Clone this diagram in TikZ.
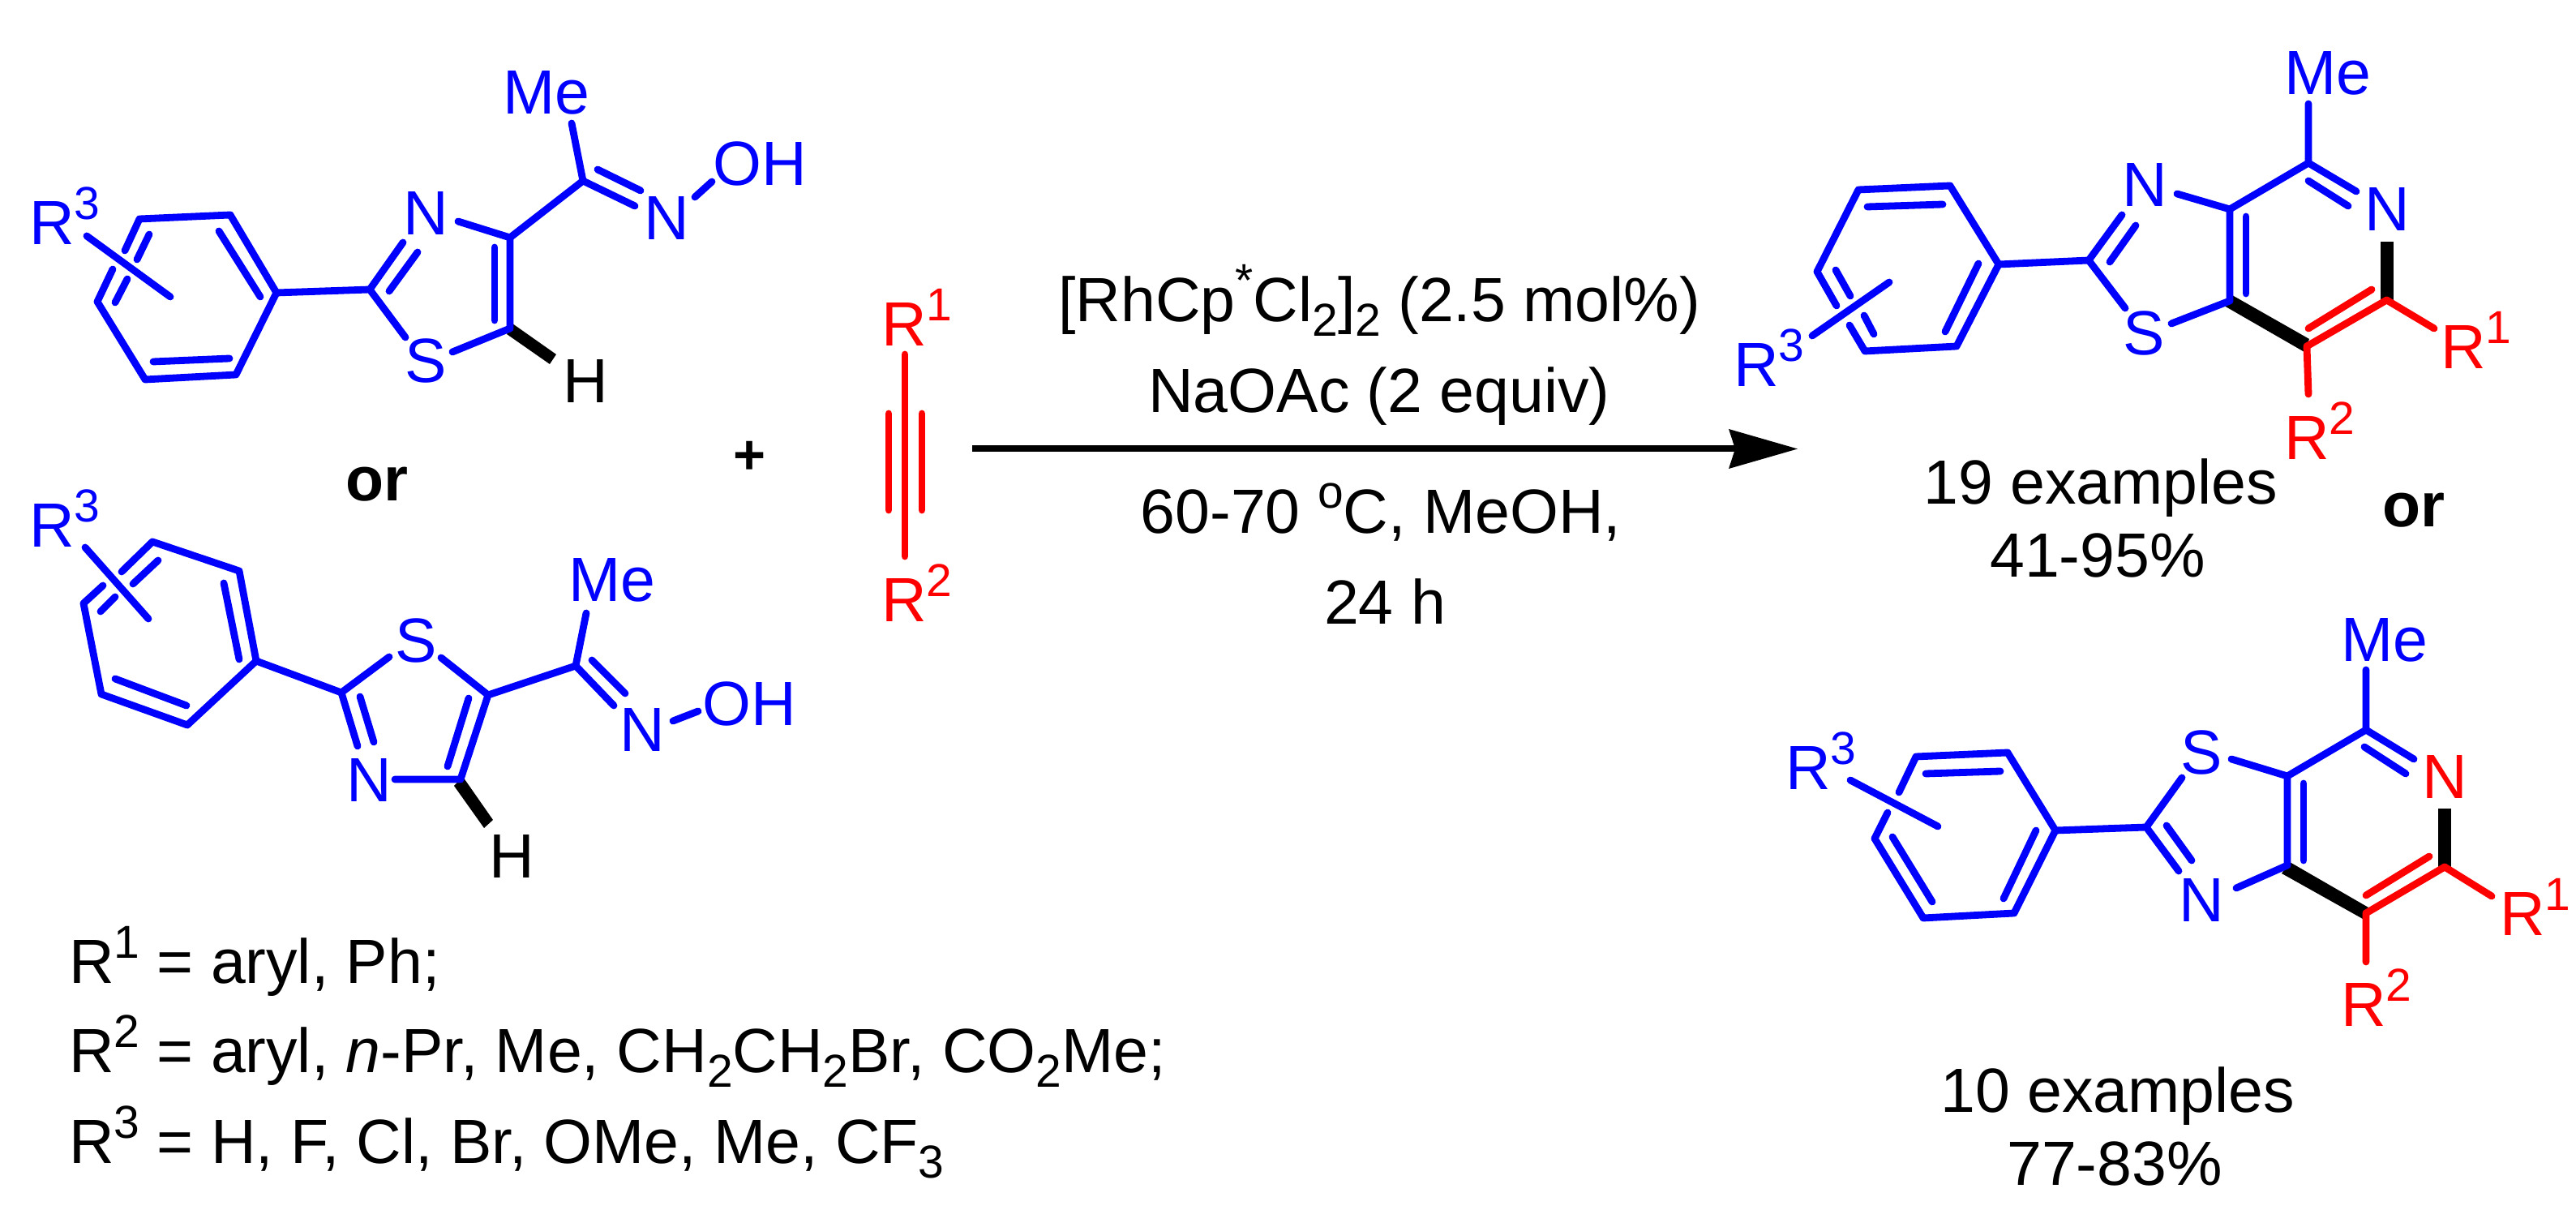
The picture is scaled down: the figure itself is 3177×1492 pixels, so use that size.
\documentclass[tikz,border=0pt]{standalone}
\usepackage{fontspec}
\setmainfont{Liberation Sans}
\definecolor{mblue}{RGB}{0,0,255}
\definecolor{mred}{RGB}{255,0,0}
\newcommand\mainsize{\fontsize{21.9}{26}\selectfont}
\newcommand\Sup[1]{\raisebox{.31cm}{\fontsize{16.2}{18}\selectfont #1}}
\newcommand\Sub[1]{\raisebox{-.17cm}{\fontsize{16.2}{18}\selectfont #1}}
\tikzset{
  bb/.style={draw=mblue,line width=.088cm,line cap=round,line join=round},
  rb/.style={draw=mred,line width=.088cm,line cap=round,line join=round},
  kb/.style={draw=black,line width=.16cm,line cap=butt},
  wedgefill/.style={fill=black,draw=none},
  lab/.style={inner sep=0pt,outer sep=0pt,anchor=base,font=\mainsize},
  labw/.style={lab,anchor=base west},
  bl/.style={lab,text=mblue},
  blw/.style={labw,text=mblue},
  rlw/.style={labw,text=mred},
  bk/.style={lab,text=black},
  bkw/.style={labw,text=black},
  orl/.style={lab,text=black,font=\mainsize\bfseries},
}
\begin{document}
\begin{tikzpicture}[x=.01cm,y=-.01cm]
\useasboundingbox (0,0) rectangle (3177,1492);
\fill[white] (0,0) rectangle (3177,1492);

%% ---------- top reactant
\coordinate (a1) at (172,270); \coordinate (a2) at (284,265); \coordinate (a3) at (341,361);
\coordinate (a4) at (291,462); \coordinate (a5) at (179,468); \coordinate (a6) at (120,372);
\coordinate (a7) at (154,309); \coordinate (a8) at (139,332);
\coordinate (a9) at (456,357); \coordinate (a10) at (497,299); \coordinate (a11) at (500,416);
\coordinate (a12) at (558,434); \coordinate (a13) at (629,405); \coordinate (a14) at (629,293);
\coordinate (a15) at (565,273); \coordinate (a16) at (719,223); \coordinate (a17) at (705,152);
\coordinate (a18) at (783,254); \coordinate (a19) at (857,243); \coordinate (a20) at (878,224);
\fill[wedgefill] (632,399) -- (686,437) -- (678,449) -- (625,412) -- cycle;
\draw[bb] (a7) -- (a1) -- (a2) -- (a3) -- (a4) -- (a5) -- (a6) -- (a8);
\draw[bb] (a3) -- (a9) -- (a10);
\draw[bb] (a9) -- (a11);
\draw[bb] (a12) -- (a13) -- (a14) -- (a15);
\draw[bb] (a14) -- (a16) -- (a17);
\draw[bb] (a16) -- (a18);
\draw[bb] (a19) -- (a20);
\draw[bb] (270,285) -- (321,366);
\draw[bb] (189,446) -- (283,442);
\draw[bb] (184,289) -- (169,320);
\draw[bb] (157,344) -- (142,373);
\draw[bb] (107,291) -- (210,366);
\draw[bb] (480,359) -- (515,311);
\draw[bb] (610,305) -- (610,395);
\draw[bb] (737,209) -- (790,235);
\node[blw] (aR) at (36,302) {R\Sup{3}};
\node[bl] (aN) at (525,290) {N};
\node[bl] (aS) at (525,472) {S};
\node[bl] (aMe) at (674,141) {Me};
\node[bl] (aN2) at (822,296) {N};
\node[bl] (aOH) at (937,229) {OH};
\node[bk] (aH) at (722,497) {H};

\node[orl] (or1) at (465,618) {or};
\node[lab,font=\fontsize{19.5}{24}\selectfont\bfseries] (plus) at (925,585) {+};

%% ---------- lower reactant
\coordinate (b1) at (188,668); \coordinate (b2) at (295,704); \coordinate (b3) at (316,815);
\coordinate (b4) at (231,894); \coordinate (b5) at (125,856); \coordinate (b6) at (103,744);
\coordinate (b7) at (150,705); \coordinate (b8) at (127,722);
\coordinate (b9) at (421,854); \coordinate (b10) at (480,810); \coordinate (b11) at (441,920);
\coordinate (b12) at (544,811); \coordinate (b13) at (602,857); \coordinate (b14) at (568,961);
\coordinate (b15) at (487,961); \coordinate (b16) at (710,821); \coordinate (b17) at (723,756);
\coordinate (b18) at (757,870); \coordinate (b19) at (830,889); \coordinate (b20) at (861,877);
\fill[wedgefill] (571,958) -- (608,1011) -- (597,1021) -- (560,969) -- cycle;
\draw[bb] (b7) -- (b1) -- (b2) -- (b3) -- (b4) -- (b5) -- (b6) -- (b8);
\draw[bb] (b3) -- (b9) -- (b10);
\draw[bb] (b9) -- (b11);
\draw[bb] (b12) -- (b13) -- (b14) -- (b15);
\draw[bb] (b13) -- (b16) -- (b17);
\draw[bb] (b16) -- (b18);
\draw[bb] (b19) -- (b20);
\draw[bb] (276,719) -- (295,813);
\draw[bb] (142,837) -- (230,870);
\draw[bb] (195,691) -- (164,720);
\draw[bb] (142,736) -- (124,754);
\draw[bb] (105,675) -- (183,763);
\draw[bb] (444,859) -- (461,915);
\draw[bb] (578,861) -- (552,945);
\draw[bb] (730,814) -- (771,855);
\node[blw] (bR) at (36,675) {R\Sup{3}};
\node[bl] (bS) at (513,817) {S};
\node[bl] (bN) at (455,989) {N};
\node[bl] (bMe) at (755,742) {Me};
\node[bl] (bN2) at (792,927) {N};
\node[bl] (bOH) at (924,895) {OH};
\node[bk] (bH) at (631,1083) {H};

%% ---------- alkyne
\coordinate (c1) at (1116,437); \coordinate (c2) at (1116,686);
\draw[rb] (c1) -- (c2);
\draw[rb] (1096,510) -- (1096,629);
\draw[rb] (1137,510) -- (1137,629);
\node[rlw] (cR1) at (1087,427) {R\Sup{1}};
\node[rlw] (cR2) at (1087,767) {R\Sup{2}};

%% ---------- arrow and conditions
\coordinate (ar1) at (1199,553.5); \coordinate (ar2) at (2145,553.5);
\draw[line width=.08cm] (ar1) -- (ar2);
\fill[black] (2217,553.5) -- (2132,529) -- (2140,553.5) -- (2132,578) -- cycle;
\node[bk] (t1) at (1701,397) {[RhCp\Sup{*}Cl\Sub{2}]\Sub{2} (2.5 mol\%)};
\node[bk] (t2) at (1701,509) {NaOAc (2 equiv)};
\node[bk] (t3) at (1703,658) {60-70 \Sup{o}C, MeOH,};
\node[bk] (t4) at (1708,770) {24 h};

%% ---------- product 1
\coordinate (d1) at (2292,234); \coordinate (d2) at (2405,229); \coordinate (d3) at (2465,326);
\coordinate (d4) at (2413,427); \coordinate (d5) at (2300,433); \coordinate (d6) at (2241,335);
\coordinate (d7) at (2265,377); \coordinate (d8) at (2281,401);
\coordinate (d9) at (2576,321); \coordinate (d10) at (2617,265); \coordinate (d11) at (2621,380);
\coordinate (d12) at (2685,239); \coordinate (d13) at (2750,258); \coordinate (d14) at (2750,371);
\coordinate (d15) at (2678,399); \coordinate (d16) at (2847,201); \coordinate (d17) at (2847,128);
\coordinate (d18) at (2906,236); \coordinate (d19) at (2943.5,298); \coordinate (d20) at (2943.5,370);
\coordinate (d21) at (2845,427); \coordinate (d22) at (3002,405); \coordinate (d23) at (2847,486);
\draw[kb] (d19) -- (d20);
\fill[wedgefill] (2753,364) -- (2848,418) -- (2842,434) -- (2743,377) -- cycle;
\draw[bb] (d7) -- (d6) -- (d1) -- (d2) -- (d3) -- (d4) -- (d5) -- (d8);
\draw[bb] (d3) -- (d9) -- (d10);
\draw[bb] (d9) -- (d11);
\draw[bb] (d12) -- (d13) -- (d14) -- (d15);
\draw[bb] (d13) -- (d16) -- (d17);
\draw[bb] (d16) -- (d18);
\draw[rb] (d20) -- (d21) -- (d23);
\draw[rb] (d20) -- (d22);
\draw[bb] (2303,255) -- (2396,252);
\draw[bb] (2440,325) -- (2399,409);
\draw[bb] (2264,333) -- (2282,365);
\draw[bb] (2299,389) -- (2311,412);
\draw[bb] (2235,414) -- (2330,348);
\draw[bb] (2602,323) -- (2634,278);
\draw[bb] (2770,267) -- (2770,362);
\draw[bb] (2847,223) -- (2896,254);
\draw[rb] (2925,357) -- (2847,405);
\node[blw] (dR) at (2138,477) {R\Sup{3}};
\node[bl] (dN) at (2645,255) {N};
\node[bl] (dS) at (2644,438) {S};
\node[bl] (dMe) at (2871,117) {Me};
\node[bl] (dN2) at (2944,285) {N};
\node[rlw] (dR1) at (3010,455) {R\Sup{1}};
\node[rlw] (dR2) at (2817,567) {R\Sup{2}};
\node[bk] (e1) at (2591,622) {19 examples};
\node[bk] (e2) at (2587,712) {41-95\%};
\node[orl] (or2) at (2977,650) {or};

%% ---------- product 2
\coordinate (f1) at (2363,933); \coordinate (f2) at (2476,928); \coordinate (f3) at (2535,1024);
\coordinate (f4) at (2484,1126); \coordinate (f5) at (2372,1132); \coordinate (f6) at (2312,1034);
\coordinate (f7) at (2342,977); \coordinate (f8) at (2328,1002);
\coordinate (f9) at (2647,1020); \coordinate (f10) at (2691,959); \coordinate (f11) at (2687,1074);
\coordinate (f12) at (2752,936); \coordinate (f13) at (2821,957); \coordinate (f14) at (2821,1067);
\coordinate (f15) at (2758,1095); \coordinate (f16) at (2918,900); \coordinate (f17) at (2918,826);
\coordinate (f18) at (2977,936); \coordinate (f19) at (3015,997); \coordinate (f20) at (3015,1069);
\coordinate (f21) at (2918,1126); \coordinate (f22) at (3073,1105); \coordinate (f23) at (2918,1186);
\draw[kb] (f19) -- (f20);
\fill[wedgefill] (2824,1063) -- (2921,1119) -- (2914,1133) -- (2814,1077) -- cycle;
\draw[bb] (f7) -- (f1) -- (f2) -- (f3) -- (f4) -- (f5) -- (f6) -- (f8);
\draw[bb] (f3) -- (f9) -- (f10);
\draw[bb] (f9) -- (f11);
\draw[bb] (f12) -- (f13) -- (f14) -- (f15);
\draw[bb] (f13) -- (f16) -- (f17);
\draw[bb] (f16) -- (f18);
\draw[rb] (f20) -- (f21) -- (f23);
\draw[rb] (f20) -- (f22);
\draw[bb] (2375,954) -- (2467,951);
\draw[bb] (2511,1024) -- (2471,1108);
\draw[bb] (2334,1032) -- (2383,1112);
\draw[bb] (2282,962) -- (2390,1019);
\draw[bb] (2672,1018) -- (2703,1061);
\draw[bb] (2841,966) -- (2841,1061);
\draw[bb] (2916,921) -- (2967,954);
\draw[rb] (2996,1056) -- (2918,1104);
\node[blw] (fR) at (2202,974) {R\Sup{3}};
\node[bl] (fS) at (2715,955) {S};
\node[bl] (fN) at (2715,1137) {N};
\node[bl] (fMe) at (2941,816) {Me};
\node[lab,text=mred] (fN2) at (3015,985) {N};
\node[rlw] (fR1) at (3083,1154) {R\Sup{1}};
\node[rlw] (fR2) at (2887,1266) {R\Sup{2}};
\node[bk] (g1) at (2612,1372) {10 examples};
\node[bk] (g2) at (2608,1462) {77-83\%};

%% ---------- substituent list
\node[bkw] (l1) at (85,1213) {R\Sup{1} = aryl, Ph;};
\node[bkw] (l2) at (85,1323) {R\Sup{2} = aryl, \textit{n}-Pr, Me, CH\Sub{2}CH\Sub{2}Br, CO\Sub{2}Me;};
\node[bkw] (l3) at (85,1435) {R\Sup{3} = H, F, Cl, Br, OMe, Me, CF\Sub{3}};
\end{tikzpicture}
\end{document}
